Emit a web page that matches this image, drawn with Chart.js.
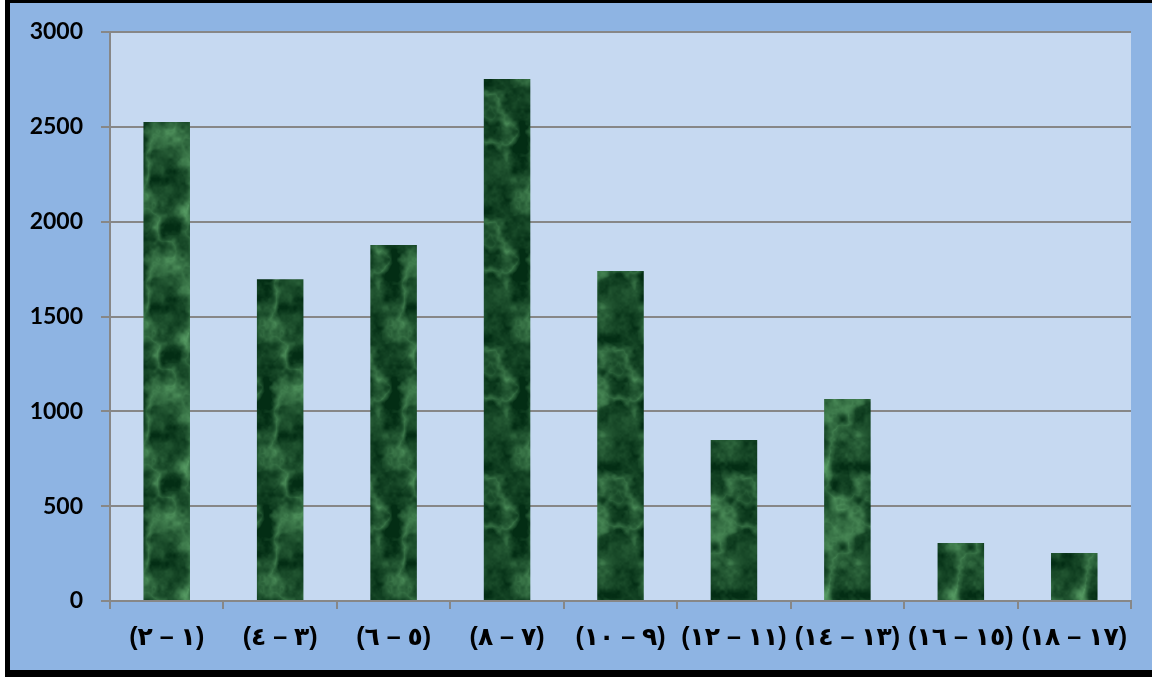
<!DOCTYPE html>
<html>
<head>
<meta charset="utf-8">
<script src="https://cdn.jsdelivr.net/npm/chart.js@4"></script>
<style>
  html, body { margin: 0; padding: 0; background: #fff; overflow: hidden; }
  #frame {
    position: absolute; left: 5px; top: 0;
    width: 1147px; height: 667px;
    border-top: 3px solid #000; border-left: 5px solid #000; border-bottom: 7px solid #000;
    background: #8EB4E3;
  }
  #wrap { position: absolute; left: 0; top: 0; width: 1142px; height: 667px; }
</style>
</head>
<body>
<div id="frame"><div id="wrap"><canvas id="chart"></canvas></div></div>
<script>
// categories (age groups, arabic digits)
const categories = ['(١ – ٢)', '(٣ – ٤)', '(٥ – ٦)', '(٧ – ٨)', '(٩ – ١٠)', '(١١ – ١٢)', '(١٣ – ١٤)', '(١٥ – ١٦)', '(١٧ – ١٨)'];
const values = [2525, 1697, 1877, 2752, 1740, 849, 1065, 306, 253];
const yTicks = [0, 500, 1000, 1500, 2000, 2500, 3000];

// dark green marble texture for the bars (tileable value noise, fixed hash)
function marblePattern(ctx) {
  const w = 128, h = 128;
  const c = document.createElement('canvas');
  c.width = w; c.height = h;
  const g = c.getContext('2d');
  const img = g.createImageData(w, h);
  const hash = (i, j) => {
    let n = i * 374761393 + j * 668265263;
    n = (n ^ (n >> 13)) * 1274126177;
    return ((n ^ (n >> 16)) & 1023) / 1023;
  };
  const noise = (x, y, p) => {
    const x0 = Math.floor(x), y0 = Math.floor(y);
    const fx = x - x0, fy = y - y0;
    const sx = fx * fx * (3 - 2 * fx), sy = fy * fy * (3 - 2 * fy);
    const a = hash(x0 % p, y0 % p), b = hash((x0 + 1) % p, y0 % p);
    const cc = hash(x0 % p, (y0 + 1) % p), d = hash((x0 + 1) % p, (y0 + 1) % p);
    return (a + (b - a) * sx) * (1 - sy) + (cc + (d - cc) * sx) * sy;
  };
  const fbm = (x, y, p0, off) => {
    let v = 0, amp = 0.5, p = p0;
    for (let o = 0; o < 4; o++) {
      v += amp * noise(x * p / w + off, y * p / h + off, p);
      amp *= 0.5; p *= 2;
    }
    return v;
  };
  for (let y = 0; y < h; y++) {
    for (let x = 0; x < w; x++) {
      const base = fbm(x, y, 8, 0);
      const vn = fbm(x, y, 4, 7);
      const vein = Math.max(0, 1 - Math.abs(vn - 0.47) * 8);
      let t = 0.14 + (base - 0.45) * 0.9 + vein * 0.35;
      t = Math.max(0, Math.min(1, t));
      const i = (y * w + x) * 4;
      img.data[i] = 3 + t * 95;
      img.data[i + 1] = 45 + t * 125;
      img.data[i + 2] = 20 + t * 90;
      img.data[i + 3] = 255;
    }
  }
  g.putImageData(img, 0, 0);
  return ctx.createPattern(c, 'repeat');
}

const plotBg = {
  id: 'plotBg',
  beforeDraw(chart) {
    const a = chart.chartArea, c = chart.ctx;
    c.save();
    c.fillStyle = '#C6D9F1';
    c.fillRect(a.left, a.top, a.right - a.left, a.bottom - a.top);
    c.restore();
  }
};

const ctx = document.getElementById('chart').getContext('2d');

new Chart(ctx, {
  type: 'bar',
  data: {
    labels: categories,
    datasets: [{
      data: values,
      backgroundColor: marblePattern(ctx),
      borderWidth: 0,
      categoryPercentage: 1,
      barPercentage: 0.41
    }]
  },
  options: {
    responsive: true,
    maintainAspectRatio: false,
    animation: false,
    layout: { padding: { top: 0, right: 21, left: 0, bottom: 0 } },
    plugins: { legend: { display: false }, tooltip: { enabled: false } },
    scales: {
      y: {
        min: 0, max: 3000,
        afterBuildTicks: (s) => { s.ticks = yTicks.map(v => ({ value: v })); },
        afterFit: (s) => { s.width = 100; s.paddingTop = 29; },
        grid: { color: '#878787', lineWidth: 2, tickLength: 9 },
        border: { color: '#878787', width: 2 },
        ticks: {
          padding: 18,
          color: '#000',
          callback: (v) => String(v),
          font: { family: 'Lato', weight: 'bold', size: 23 }
        }
      },
      x: {
        afterFit: (s) => { s.height = 69; },
        grid: { drawOnChartArea: false, color: '#878787', lineWidth: 2, tickLength: 8, offset: true },
        border: { color: '#878787', width: 2 },
        ticks: {
          autoSkip: false, maxRotation: 0, padding: 14,
          color: '#000',
          font: { family: "'Liberation Sans', 'DejaVu Sans'", weight: 'bold', size: 25 }
        }
      }
    }
  },
  plugins: [plotBg]
});
</script>
</body>
</html>
